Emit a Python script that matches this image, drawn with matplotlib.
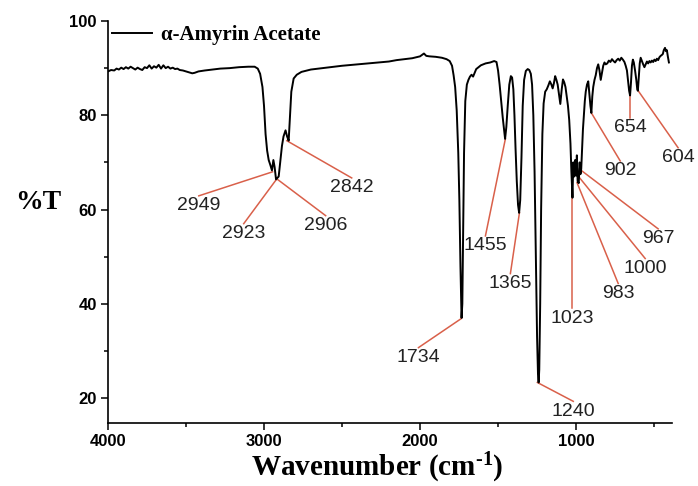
import matplotlib
matplotlib.use("Agg")
import matplotlib.pyplot as plt

# ---------------- data ----------------
wavenumber = [4000, 3980, 3960, 3945, 3930, 3915, 3900, 3885, 3870, 3855, 3840, 3825, 3810,
              3795, 3780, 3765, 3750, 3735, 3720, 3705, 3690, 3675, 3660, 3645, 3630, 3615,
              3600, 3585, 3570, 3555, 3540, 3520, 3500, 3480, 3460, 3445, 3420, 3380, 3330,
              3280, 3220, 3160, 3100, 3060, 3040, 3025, 3010, 3000, 2990, 2980, 2970, 2960,
              2949, 2940, 2932, 2923, 2914, 2906, 2895, 2885, 2875, 2862, 2852, 2842, 2835,
              2825, 2810, 2790, 2760, 2700, 2600, 2500, 2400, 2300, 2200, 2150, 2100, 2050,
              2000, 1975, 1960, 1940, 1900, 1860, 1830, 1810, 1795, 1785, 1775, 1765, 1755,
              1748, 1741, 1734, 1729, 1724, 1718, 1710, 1700, 1690, 1680, 1670, 1660, 1640,
              1610, 1580, 1550, 1525, 1510, 1500, 1490, 1480, 1470, 1462, 1455, 1447, 1438,
              1428, 1418, 1410, 1402, 1395, 1388, 1380, 1372, 1365, 1358, 1350, 1342, 1333,
              1322, 1310, 1300, 1290, 1282, 1274, 1266, 1258, 1250, 1244, 1240, 1236, 1230,
              1224, 1216, 1208, 1198, 1188, 1178, 1168, 1158, 1150, 1142, 1134, 1126, 1118,
              1110, 1101, 1092, 1084, 1076, 1068, 1060, 1052, 1044, 1036, 1030, 1023, 1018,
              1012, 1006, 1000, 995, 990, 983, 977, 972, 967, 962, 956, 950, 944,
              938, 930, 922, 915, 908, 902, 896, 890, 882, 874, 866, 858, 850,
              842, 834, 826, 818, 810, 800, 790, 780, 770, 760, 750, 740, 730,
              720, 710, 700, 690, 682, 674, 666, 660, 654, 648, 642, 636, 630,
              622, 614, 608, 604, 598, 592, 586, 578, 570, 562, 554, 546, 538,
              530, 522, 514, 506, 498, 490, 482, 474, 466, 458, 450, 444, 438, 430,
              424, 418, 412, 405]

transmittance = [89.3, 89.6, 89.5, 89.9, 89.7, 90.1, 89.8, 90.2, 89.9, 90.3, 90.0, 89.7, 90.1,
                 89.8, 89.6, 90.2, 90.0, 90.6, 89.9, 90.4, 90.1, 90.7, 89.9, 90.6, 90.0, 90.3,
                 89.9, 90.1, 89.8, 89.9, 89.6, 89.5, 89.3, 89.1, 88.9, 89.0, 89.3, 89.5, 89.7,
                 89.9, 90.0, 90.2, 90.3, 90.3, 89.9, 88.8, 86.0, 82.0, 76.0, 72.5, 70.5, 69.5,
                 68.3, 70.5, 69.0, 66.4, 66.7, 67.0, 70.5, 73.5, 75.5, 76.8, 75.5, 74.6, 79.0,
                 85.0, 87.8, 88.6, 89.2, 89.7, 90.1, 90.5, 90.8, 91.1, 91.4, 91.7, 91.9, 92.1,
                 92.5, 93.1, 92.6, 92.5, 92.4, 92.2, 91.9, 91.5, 90.5, 88.5, 86.0, 81.0, 72.0,
                 62.0, 48.0, 37.0, 40.0, 55.0, 72.0, 83.0, 86.5, 87.5, 88.2, 88.6, 88.2, 89.8,
                 90.6, 91.0, 91.2, 91.5, 91.3, 89.5, 86.5, 83.0, 79.5, 77.0, 75.0, 77.5, 82.0,
                 86.5, 88.3, 88.0, 85.5, 80.0, 73.0, 66.0, 61.0, 59.3, 62.0, 71.0, 82.0, 87.5,
                 89.4, 89.8, 89.6, 88.8, 86.5, 80.0, 68.0, 50.0, 33.0, 25.0, 23.3, 26.0, 40.0,
                 60.0, 76.0, 82.5, 85.0, 85.5, 86.3, 87.2, 86.5, 85.7, 86.8, 88.3, 87.5, 86.5,
                 84.5, 82.4, 85.5, 87.6, 87.0, 86.0, 84.0, 82.0, 79.0, 74.0, 68.0, 62.5, 70.0,
                 67.0, 70.5, 67.2, 71.5, 66.0, 65.6, 70.0, 67.5, 68.6, 72.5, 77.0, 80.0, 83.0,
                 85.0, 86.5, 87.2, 84.5, 82.0, 80.5, 84.0, 86.0, 87.5, 88.5, 90.0, 90.8, 89.5,
                 87.5, 89.0, 90.5, 91.2, 90.8, 91.0, 91.6, 91.3, 91.9, 91.5, 91.2, 91.7, 92.0,
                 91.6, 92.2, 91.8, 91.3, 90.5, 89.5, 87.0, 85.2, 84.2, 87.0, 90.5, 91.8, 91.2,
                 89.5, 87.5, 85.5, 85.2, 88.0, 91.0, 92.2, 91.5, 90.8, 90.2, 90.8, 91.4, 91.0,
                 91.5, 91.2, 91.6, 91.3, 91.8, 91.5, 92.0, 91.7, 92.3, 92.6, 92.8, 93.0, 93.8, 94.3,
                 93.6, 93.8, 92.5, 91.2]

series_name = "\u03b1-Amyrin Acetate"

# peak labels: point on the curve, and end of the leader line (label anchor)
peak_labels = ["2949", "2923", "2906", "2842", "1734", "1455", "1365", "1240",
               "1023", "1000", "983", "967", "902", "654", "604"]
peak_wn = [2945, 2918, 2918, 2854, 1734, 1453, 1363, 1248, 1024, 994, 994, 979, 902, 653, 602]
peak_t = [68.0, 66.5, 66.5, 74.6, 36.9, 75.0, 59.3, 23.3, 62.5, 67.4, 65.7, 68.6, 80.5, 84.1, 85.2]
label_wn = [3418, 3130, 2605, 2438, 2010, 1581, 1421, 1018, 1024, 557, 730, 474, 717, 653, 346]
label_t = [62.9, 57.0, 58.7, 66.7, 30.7, 54.4, 46.4, 19.3, 39.0, 49.6, 44.3, 55.9, 70.3, 79.4, 73.1]

x_major = [4000, 3000, 2000, 1000]
y_major = [20, 40, 60, 80, 100]

# ---------------- style ----------------
plt.rcParams["mathtext.fontset"] = "custom"
plt.rcParams["mathtext.rm"] = "Liberation Serif:bold"
plt.rcParams["mathtext.bf"] = "Liberation Serif:bold"
plt.rcParams["mathtext.it"] = "Liberation Serif:bold:italic"
plt.rcParams["mathtext.default"] = "rm"

fig = plt.figure(figsize=(6.98, 4.86), dpi=100)
ax = fig.add_axes([0.1547, 0.1296, 0.8081, 0.8272])

ax.plot(wavenumber, transmittance, color="black", lw=1.4, label=series_name)

red = "#d9604a"
for lab, px, py, lx, ly in zip(peak_labels, peak_wn, peak_t, label_wn, label_t):
    ax.plot([px, lx], [py, ly], color=red, lw=1.1, clip_on=False, zorder=1)
    ax.text(lx, ly - 0.3, lab, ha="center", va="top", fontsize=14,
            family="Liberation Sans", color="#222222", clip_on=False)

ax.set_xlim(4000, 385)
ax.set_ylim(14.7, 100)
ax.set_xticks(x_major)
ax.set_xticks([3500, 2500, 1500, 500], minor=True)
ax.set_yticks(y_major)
ax.set_yticks([30, 50, 70, 90], minor=True)

for s in ["top", "right"]:
    ax.spines[s].set_visible(False)
for s in ["left", "bottom"]:
    ax.spines[s].set_linewidth(1.2)

ax.tick_params(which="major", direction="out", length=5, width=1.1, pad=3)
ax.tick_params(which="minor", direction="out", length=3, width=1.1)
for t in ax.get_xticklabels() + ax.get_yticklabels():
    t.set_family("Liberation Sans")
    t.set_fontweight("bold")
    t.set_fontsize(12)

ax.set_xlabel("Wavenumber (cm$^{\\text{-1}}$)", family="Liberation Serif",
              fontweight="bold", fontsize=21)
ax.xaxis.set_label_coords(0.477, -0.068)
ax.set_ylabel("%T", family="Liberation Serif", fontweight="bold", fontsize=20,
              rotation=0, va="center", ha="center")
ax.yaxis.set_label_coords(-0.124, 0.548)

leg = ax.legend(loc="upper left", bbox_to_anchor=(0.0, 1.0), frameon=False,
                prop={"family": "Liberation Serif", "weight": "bold", "size": 15},
                handlelength=1.9, handletextpad=0.45, borderpad=0.05, borderaxespad=0.15)

fig.savefig("out.png", dpi=100)
